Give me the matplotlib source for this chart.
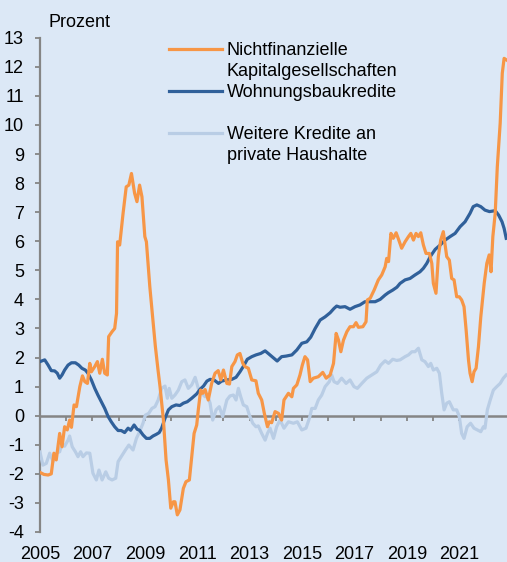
import matplotlib
matplotlib.use("Agg")
import matplotlib.pyplot as plt
from matplotlib.lines import Line2D

plt.rcParams['font.family'] = ['Liberation Sans', 'DejaVu Sans']

# ---------------- data ----------------
# Nichtfinanzielle Kapitalgesellschaften
nfk_t = [2005.00, 2005.15, 2005.31, 2005.43, 2005.53, 2005.62, 2005.75, 2005.84, 2005.94, 2006.04,
         2006.13, 2006.20, 2006.30, 2006.39, 2006.52, 2006.62, 2006.71, 2006.81, 2006.90, 2006.96,
         2007.09, 2007.19, 2007.28, 2007.38, 2007.47, 2007.57, 2007.62, 2007.75, 2007.85, 2007.92,
         2007.96, 2008.04, 2008.17, 2008.29, 2008.39, 2008.49, 2008.61, 2008.70, 2008.80, 2008.89,
         2009.00, 2009.06, 2009.19, 2009.31, 2009.40, 2009.50, 2009.58, 2009.71, 2009.81, 2009.90,
         2009.99, 2010.09, 2010.15, 2010.24, 2010.34, 2010.47, 2010.57, 2010.70, 2010.79, 2010.88,
         2010.98, 2011.04, 2011.13, 2011.21, 2011.30, 2011.42, 2011.55, 2011.68, 2011.80, 2011.90,
         2012.00, 2012.13, 2012.23, 2012.32, 2012.44, 2012.53, 2012.63, 2012.74, 2012.82, 2012.95,
         2013.08, 2013.24, 2013.33, 2013.46, 2013.56, 2013.68, 2013.75, 2013.84, 2013.97, 2014.10,
         2014.22, 2014.31, 2014.48, 2014.61, 2014.67, 2014.80, 2014.92, 2015.01, 2015.11, 2015.21,
         2015.31, 2015.43, 2015.62, 2015.79, 2015.92, 2016.07, 2016.20, 2016.30, 2016.39, 2016.48,
         2016.58, 2016.71, 2016.83, 2016.96, 2017.06, 2017.15, 2017.32, 2017.44, 2017.49, 2017.60,
         2017.75, 2017.91, 2018.04, 2018.17, 2018.23, 2018.30, 2018.39, 2018.48, 2018.59, 2018.68,
         2018.80, 2018.93, 2019.06, 2019.15, 2019.25, 2019.35, 2019.44, 2019.53, 2019.63, 2019.73,
         2019.86, 2019.95, 2020.01, 2020.11, 2020.20, 2020.29, 2020.39, 2020.46, 2020.52, 2020.62,
         2020.71, 2020.80, 2020.90, 2021.00, 2021.09, 2021.18, 2021.26, 2021.35, 2021.41, 2021.49,
         2021.56, 2021.64, 2021.73, 2021.82, 2021.95, 2022.05, 2022.14, 2022.21, 2022.28, 2022.37,
         2022.45, 2022.56, 2022.64, 2022.71, 2022.81]
nfk_v = [-1.95, -2.02, -2.04, -2.00, -1.29, -1.52, -0.61, -1.07, -0.38, -0.49,
         -0.15, -0.40, 0.37, 0.31, 1.00, 1.37, 1.17, 1.11, 1.80, 1.51,
         1.69, 1.86, 1.46, 1.94, 1.46, 1.40, 2.72, 2.89, 3.00, 3.52,
         5.98, 5.87, 6.96, 7.87, 7.93, 8.33, 7.65, 7.36, 7.93, 7.53,
         6.16, 5.98, 4.44, 3.29, 2.40, 1.60, 1.00, -0.15, -1.52, -2.21,
         -3.18, -2.96, -2.96, -3.41, -3.24, -2.50, -2.27, -2.21, -1.41, -0.61,
         -0.32, 0.20, 0.88, 0.77, 0.90, 0.54, 1.11, 1.46, 1.55, 1.23,
         1.57, 1.11, 1.09, 1.69, 1.86, 2.09, 2.14, 1.80, 1.69, 1.63,
         1.23, 1.20, 0.77, 0.54, 0.08, -0.38, -0.21, -0.24, 0.14, 0.08,
         -0.15, 0.54, 0.77, 0.65, 0.94, 1.06, 1.40, 1.74, 2.03, 1.92,
         1.17, 1.29, 1.34, 1.49, 1.29, 1.40, 1.80, 2.83, 2.60, 2.20,
         2.60, 2.89, 3.06, 3.06, 3.20, 3.04, 3.06, 3.23, 3.98, 4.04,
         4.32, 4.67, 4.84, 5.12, 5.41, 5.30, 6.27, 6.10, 6.29, 6.07,
         5.76, 5.98, 6.16, 6.27, 6.04, 6.27, 6.16, 6.29, 5.87, 5.58,
         5.58, 5.24, 4.55, 4.21, 5.47, 6.04, 6.33, 5.87, 5.47, 5.35,
         4.72, 4.67, 4.09, 4.09, 3.98, 3.75, 2.95, 1.92, 1.46, 1.17,
         1.51, 1.63, 2.37, 3.40, 4.55, 5.24, 5.53, 4.95, 6.16, 6.96,
         8.56, 10.06, 11.78, 12.29, 12.23]

# Wohnungsbaukredite
wbk_t = [2005.00, 2005.18, 2005.31, 2005.43, 2005.56, 2005.66, 2005.75, 2005.84, 2005.94, 2006.07,
         2006.20, 2006.35, 2006.48, 2006.60, 2006.73, 2006.83, 2006.96, 2007.09, 2007.21, 2007.34,
         2007.47, 2007.60, 2007.72, 2007.85, 2007.98, 2008.10, 2008.23, 2008.36, 2008.46, 2008.59,
         2008.71, 2008.80, 2008.93, 2009.06, 2009.19, 2009.31, 2009.44, 2009.55, 2009.64, 2009.77,
         2009.90, 2010.03, 2010.19, 2010.34, 2010.47, 2010.62, 2010.79, 2010.98, 2011.11, 2011.24,
         2011.37, 2011.49, 2011.64, 2011.81, 2011.93, 2012.13, 2012.32, 2012.48, 2012.63, 2012.79,
         2012.91, 2013.08, 2013.24, 2013.42, 2013.59, 2013.71, 2013.88, 2014.05, 2014.22, 2014.39,
         2014.61, 2014.80, 2014.99, 2015.18, 2015.33, 2015.50, 2015.69, 2015.88, 2016.07, 2016.22,
         2016.32, 2016.45, 2016.64, 2016.83, 2017.02, 2017.21, 2017.40, 2017.60, 2017.79, 2017.98,
         2018.17, 2018.29, 2018.46, 2018.62, 2018.74, 2018.93, 2019.12, 2019.31, 2019.50, 2019.63,
         2019.76, 2019.89, 2020.08, 2020.27, 2020.46, 2020.65, 2020.84, 2021.03, 2021.22, 2021.41,
         2021.53, 2021.67, 2021.82, 2021.98, 2022.15, 2022.37, 2022.50, 2022.63, 2022.71, 2022.79]
wbk_v = [1.86, 1.92, 1.74, 1.55, 1.54, 1.46, 1.29, 1.40, 1.57, 1.74,
         1.82, 1.82, 1.74, 1.63, 1.57, 1.46, 1.23, 0.94, 0.71, 0.48,
         0.25, -0.03, -0.21, -0.38, -0.51, -0.51, -0.58, -0.43, -0.50, -0.32,
         -0.47, -0.50, -0.66, -0.78, -0.78, -0.70, -0.64, -0.58, -0.43, -0.09,
         0.20, 0.31, 0.37, 0.35, 0.43, 0.48, 0.60, 0.75, 0.91, 1.02,
         1.19, 1.25, 1.23, 1.11, 1.19, 1.23, 1.25, 1.32, 1.51, 1.74,
         1.94, 2.03, 2.09, 2.14, 2.23, 2.14, 2.01, 1.88, 2.03, 2.05,
         2.09, 2.26, 2.49, 2.54, 2.70, 3.00, 3.29, 3.40, 3.54, 3.69,
         3.77, 3.73, 3.75, 3.66, 3.75, 3.81, 3.92, 3.92, 3.92, 4.00,
         4.15, 4.23, 4.32, 4.42, 4.55, 4.67, 4.72, 4.84, 4.95, 5.07,
         5.24, 5.47, 5.72, 5.87, 6.04, 6.16, 6.27, 6.50, 6.67, 6.96,
         7.19, 7.25, 7.19, 7.07, 7.02, 7.05, 6.90, 6.67, 6.44, 6.10]

# Weitere Kredite an private Haushalte
wkh_t = [2005.00, 2005.11, 2005.24, 2005.37, 2005.50, 2005.62, 2005.75, 2005.84, 2005.94, 2006.07,
         2006.13, 2006.23, 2006.35, 2006.45, 2006.55, 2006.64, 2006.77, 2006.90, 2007.02, 2007.15,
         2007.25, 2007.37, 2007.51, 2007.62, 2007.75, 2007.89, 2007.98, 2008.10, 2008.26, 2008.39,
         2008.55, 2008.68, 2008.80, 2008.93, 2009.02, 2009.15, 2009.27, 2009.39, 2009.51, 2009.64,
         2009.77, 2009.86, 2009.93, 2010.03, 2010.15, 2010.28, 2010.41, 2010.53, 2010.66, 2010.79,
         2010.92, 2011.04, 2011.17, 2011.30, 2011.39, 2011.49, 2011.59, 2011.72, 2011.84, 2011.97,
         2012.13, 2012.25, 2012.38, 2012.48, 2012.57, 2012.66, 2012.76, 2012.89, 2012.99, 2013.12,
         2013.24, 2013.33, 2013.46, 2013.59, 2013.68, 2013.78, 2013.91, 2014.03, 2014.16, 2014.31,
         2014.48, 2014.67, 2014.82, 2014.99, 2015.15, 2015.28, 2015.37, 2015.50, 2015.62, 2015.75,
         2015.88, 2016.04, 2016.13, 2016.22, 2016.35, 2016.51, 2016.68, 2016.83, 2016.98, 2017.11,
         2017.28, 2017.47, 2017.66, 2017.85, 2018.00, 2018.17, 2018.30, 2018.46, 2018.61, 2018.74,
         2018.93, 2019.06, 2019.19, 2019.31, 2019.44, 2019.57, 2019.69, 2019.82, 2019.91, 2020.01,
         2020.14, 2020.24, 2020.33, 2020.42, 2020.52, 2020.62, 2020.77, 2020.90, 2021.00, 2021.09,
         2021.18, 2021.30, 2021.43, 2021.56, 2021.69, 2021.82, 2021.92, 2021.98, 2022.07, 2022.18,
         2022.30, 2022.43, 2022.56, 2022.68, 2022.79]
wkh_v = [-1.25, -1.70, -1.64, -1.29, -1.58, -1.29, -1.24, -0.95, -1.05, -0.84,
         -0.70, -1.07, -1.24, -1.41, -1.24, -1.41, -1.28, -1.29, -1.98, -2.21,
         -1.87, -2.21, -1.93, -2.15, -2.21, -2.15, -1.58, -1.41, -1.18, -1.01,
         -1.18, -0.78, -0.55, -0.26, 0.02, 0.08, 0.25, 0.31, 0.54, 0.94,
         1.02, 0.60, 0.94, 0.60, 0.71, 0.88, 1.17, 1.23, 0.94, 1.06,
         1.32, 0.94, 0.77, 0.65, 0.70, 0.43, -0.15, 0.20, 0.31, -0.03,
         0.54, 0.68, 0.71, 0.54, 0.94, 0.65, 0.37, 0.31, 0.02, -0.26,
         -0.38, -0.35, -0.61, -0.84, -0.61, -0.43, -0.78, -0.38, -0.15, -0.43,
         -0.21, -0.26, -0.21, -0.49, -0.43, -0.09, 0.25, 0.25, 0.54, 0.71,
         1.00, 1.17, 1.40, 1.17, 1.11, 1.29, 1.11, 1.23, 1.00, 0.94,
         1.11, 1.29, 1.40, 1.51, 1.74, 1.89, 1.80, 1.94, 1.90, 1.92,
         2.03, 2.09, 2.20, 2.20, 2.32, 1.92, 1.86, 1.69, 1.80, 1.57,
         1.63, 1.46, 0.77, 0.20, 0.43, 0.48, 0.20, 0.20, -0.03, -0.61,
         -0.78, -0.38, -0.26, -0.43, -0.49, -0.55, -0.38, -0.43, 0.20, 0.54,
         0.88, 1.00, 1.11, 1.29, 1.40]

series_names = ["Nichtfinanzielle\nKapitalgesellschaften", "Wohnungsbaukredite",
                "Weitere Kredite an\nprivate Haushalte"]
year_ticks = list(range(2005, 2023))
year_labels = ["2005", "2007", "2009", "2011", "2013", "2015", "2017", "2019", "2021"]
y_ticks = list(range(-4, 14))
y_unit = "Prozent"

# ---------------- styling ----------------
BG = "#DCE8F6"
C_ORANGE = "#F79646"
C_DARK = "#30609A"
C_LIGHT = "#B9CDE5"
GRAY = "#858585"
FS = 13

W, H = 507, 562
fig = plt.figure(figsize=(W / 100, H / 100), dpi=100, facecolor=BG)
ax = fig.add_axes([40 / W, 30 / H, 467 / W, 494.3 / H])
ax.set_facecolor(BG)

ax.plot(wkh_t, wkh_v, color=C_LIGHT, lw=2.3, zorder=3, solid_joinstyle='round')
ax.plot(wbk_t, wbk_v, color=C_DARK, lw=2.3, zorder=4, solid_joinstyle='round')
ax.plot(nfk_t, nfk_v, color=C_ORANGE, lw=2.3, zorder=5, solid_joinstyle='round')

ax.set_xlim(2005, 2022.82)
ax.set_ylim(-4, 13)

for s in ["top", "right"]:
    ax.spines[s].set_visible(False)
ax.spines["left"].set_color(GRAY)
ax.spines["left"].set_linewidth(1.6)
ax.spines["bottom"].set_position(("data", 0))
ax.spines["bottom"].set_color(GRAY)
ax.spines["bottom"].set_linewidth(1.8)
ax.spines["bottom"].set_zorder(2)

ax.set_yticks(y_ticks)
ax.set_yticklabels([str(v) for v in y_ticks])
ax.tick_params(axis="y", direction="out", length=3.6, width=1.3, color=GRAY,
               pad=8, labelsize=FS, labelcolor="black")
ax.set_xticks(year_ticks)
ax.tick_params(axis="x", direction="out", length=3.6, width=1.3, color=GRAY,
               labelbottom=False)

sec = ax.secondary_xaxis(0.0)
sec.set_xticks([int(l) for l in year_labels], labels=year_labels)
sec.tick_params(axis="x", length=0, pad=10, labelsize=FS, labelcolor="black")
sec.spines["bottom"].set_visible(False)

# unit label
fig.text(49 / W, 1 - 27.3 / H, y_unit, fontsize=FS, ha="left", va="baseline")

# legend (manual, handle aligned with first text line)
leg_colors = [C_ORANGE, C_DARK, C_LIGHT]
leg_handle_y = [49, 90.7, 132.7]
leg_base_y = [55, 97, 139]
line_gap = 21.5
for name, col, hy, by in zip(series_names, leg_colors, leg_handle_y, leg_base_y):
    fig.add_artist(Line2D([169 / W, 222 / W], [1 - hy / H, 1 - hy / H],
                          color=col, lw=2.3, transform=fig.transFigure))
    for i, line in enumerate(name.split("\n")):
        fig.text(227 / W, 1 - (by + i * line_gap) / H, line, fontsize=FS,
                 ha="left", va="baseline")

fig.savefig("out.png", dpi=100, facecolor=BG)
